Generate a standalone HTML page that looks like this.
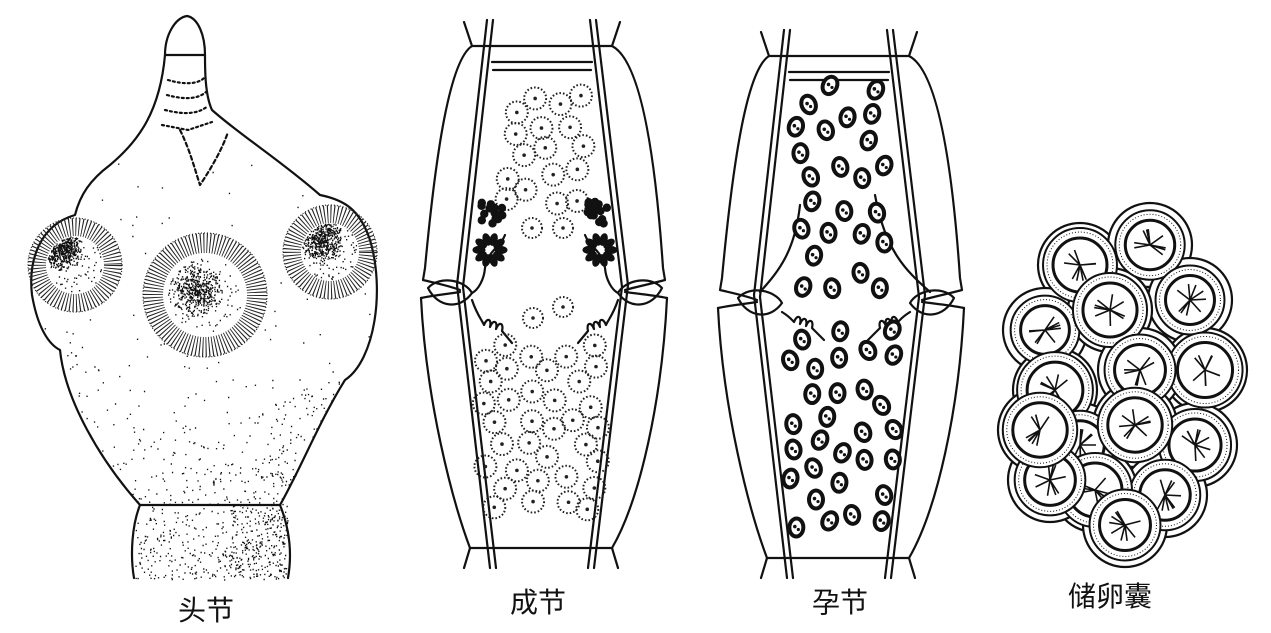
<!DOCTYPE html>
<html><head><meta charset="utf-8"><style>
html,body{margin:0;padding:0;background:#fff;width:1271px;height:633px;overflow:hidden}
svg{display:block}
.lab{font-family:"Liberation Sans","Noto Sans CJK SC",sans-serif;font-size:28px;fill:#111}
</style></head><body>
<svg id="s" width="1271" height="633" viewBox="0 0 1271 633" xmlns="http://www.w3.org/2000/svg">
<g fill="none" stroke="#111" stroke-width="2.2" stroke-linejoin="round" stroke-linecap="round">
<path id="head" d="M165,55 C160,110 140,140 110,165 C90,180 80,195 75,215 C40,225 28,260 32,295 C38,330 50,345 60,350 C65,400 100,460 140,505 L280,505 C300,470 320,420 345,380 C375,360 385,290 370,240 C360,210 345,200 320,195 C280,160 240,135 212,110 C205,95 205,70 205,55 Z"/>
<path d="M165,55 C165,35 175,18 187,16 C198,18 205,35 205,55"/>
<path d="M140,505 C132,525 130,555 134,578 M280,505 C290,530 292,555 288,578"/>
<path d="M168,80 C185,85 198,84 204,78 M167,95 C185,100 198,99 206,92 M165,110 C185,115 198,114 208,106 M162,125 L188,130 L212,122" stroke-dasharray="2 3"/>
<path d="M180,130 C190,150 195,170 200,185 C210,170 222,150 228,132" stroke-dasharray="4 3"/>
<g id="seg">
<path d="M464,22 L472,46 L612,46 L620,22"/>
<path d="M472,46 C450,60 436,150 425,268 L423,280 C440,284 450,286 460,290"/>
<path d="M612,46 C640,60 655,150 663,268 L665,280 C650,284 640,286 625,290"/>
<path d="M460,292 C448,294 435,295 421,298 M625,292 C640,294 652,295 667,298"/>
<path d="M421,298 C426,400 452,500 470,548 L612,548 C640,500 662,400 667,298"/>
<path d="M470,548 L464,568 M612,548 L618,568"/>
<path d="M487,20 L457,285 L490,568 M493,20 L463,287 L496,568"/>
<path d="M596,20 L628,285 L594,568 M590,20 L622,287 L588,568"/>
<path d="M492,62 L592,62 M493,70 L591,70"/>
</g>
<path d="M428,288 C440,275 465,280 472,293 C460,310 438,308 428,288 Z"/>
<path d="M662,288 C650,275 625,280 618,293 C630,310 652,308 662,288 Z"/>
<path d="M472,293 C478,290 484,280 485,268 C488,250 500,248 505,235 M618,293 C612,290 606,280 605,268 C602,250 590,248 585,235"/>
<path d="M472,300 c5,15 10,20 12,25 m0,0 c3,-8 8,-6 6,2 c3,-8 8,-6 6,2 c3,-8 8,-6 6,2 l10,12"/>
<path d="M618,300 c-5,15 -10,20 -12,25 m0,0 c-3,-8 -8,-6 -6,2 c-3,-8 -8,-6 -6,2 c-3,-8 -8,-6 -6,2 l-10,12"/>
<g transform="translate(297,10)">
<use href="#seg"/>
</g>
<path d="M738,298 C750,285 775,290 782,303 C770,320 748,318 738,298 Z"/>
<path d="M954,298 C942,285 917,290 910,303 C922,320 944,318 954,298 Z"/>
<path d="M760,292 C780,270 795,250 800,205 M930,292 C905,270 885,250 875,195"/>
<path d="M782,312 c8,5 10,8 12,10 m0,0 c3,-8 8,-6 6,2 c3,-8 8,-6 6,2 c3,-8 8,-6 6,2 l12,12 M910,312 c-8,5 -10,8 -12,10 m0,0 c-3,-8 -8,-6 -6,2 c-3,-8 -8,-6 -6,2 c-3,-8 -8,-6 -6,2 l-12,12"/>
</g>
<g fill="none" stroke="#222">
<circle cx="75" cy="265" r="38" stroke-width="18" stroke-dasharray="1 2.2"/>
<circle cx="205" cy="295" r="52" stroke-width="20" stroke-dasharray="1 2.2"/>
<circle cx="330" cy="252" r="38" stroke-width="18" stroke-dasharray="1 2.2"/>
<circle cx="75" cy="265" r="47" stroke-width="1.2" stroke-dasharray="1 2"/>
<circle cx="205" cy="295" r="62" stroke-width="1.2" stroke-dasharray="1 2"/>
<circle cx="330" cy="252" r="47" stroke-width="1.2" stroke-dasharray="1 2"/>
</g>
<g id="dots"></g>
<g id="eggsac" fill="none" stroke="#111" stroke-width="2"></g>
<text class="lab" x="178" y="620">头节</text>
<text class="lab" x="510" y="612">成节</text>
<text class="lab" x="812" y="612">孕节</text>
<text class="lab" x="1068" y="606">储卵囊</text>
</svg>
<script>
var NS="http://www.w3.org/2000/svg",dots=document.getElementById('dots');
var seed=7;function r(){seed=(seed*16807)%2147483647;return seed/2147483647;}
function el(t,a,p){var e=document.createElementNS(NS,t);for(var k in a)e.setAttribute(k,a[k]);(p||dots).appendChild(e);return e;}
var cv=document.createElement('canvas').getContext('2d');
var hp=new Path2D(document.getElementById('head').getAttribute('d'));
var h='';
var suck=[[75,265,47],[205,295,62],[330,252,47]];
for(var i=0;i<12000;i++){var x=30+r()*355,y=130+r()*450;
 var inside=cv.isPointInPath(hp,x,y)||(y>500&&x>135&&x<288);
 if(!inside)continue;
 if(suck.some(function(s){return Math.hypot(x-s[0],y-s[1])<s[2]}))continue;
 var t=Math.max(0,(y-330)/250);
 var d=0.01+t*t*0.5+(x>270&&y>380?0.12:0)+(y>505&&x>230?0.5:0)+(x<90&&y>330&&y<420?0.08:0);
 if(r()<d)h+='M'+x.toFixed(1)+','+y.toFixed(1)+'h1.3';}
[[75,265,47,62,250],[205,295,62,195,290],[330,252,47,322,240]].forEach(function(s){
 for(var i=0;i<2600;i++){var a=r()*6.283,rr=Math.sqrt(r())*s[2]*0.6;var x=s[0]+rr*Math.cos(a),y=s[1]+rr*Math.sin(a);
  var dd=Math.hypot(x-s[3],y-s[4]);var p=dd<s[2]*0.45?0.9*(1-dd/(s[2]*0.45))+0.1:0.03;
  if(r()<p)h+='M'+x.toFixed(1)+','+y.toFixed(1)+'h1.3';}
});
el('path',{d:h,stroke:'#111','stroke-width':1.4,fill:'none'});
function dc(x,y,R){el('circle',{cx:x,cy:y,r:R,fill:'none',stroke:'#222','stroke-width':2,'stroke-dasharray':'1.6 2'});el('circle',{cx:x,cy:y,r:1.8,fill:'#222'});}
function fill(x0,x1,y0,y1,n,fn,sp){var pts=[];for(var i=0;i<n*12&&pts.length<n;i++){var x=x0+r()*(x1-x0),y=y0+r()*(y1-y0);if(pts.every(function(p){return Math.hypot(p[0]-x,p[1]-y)>sp}))pts.push([x,y]);}pts.forEach(function(p){fn(p[0],p[1]);});}
fill(505,585,95,205,40,function(x,y){dc(x,y,11)},20);
[[532,228],[563,228],[533,318],[563,307]].forEach(function(p){dc(p[0],p[1],10)});
fill(482,598,345,515,70,function(x,y){dc(x,y,11)},20);
[[492,213],[597,213]].forEach(function(p){for(var i=0;i<16;i++){el('circle',{cx:p[0]+(r()-0.5)*22,cy:p[1]+(r()-0.5)*24,r:4.2,fill:'#111'});}});
[[490,250],[600,250]].forEach(function(p){for(var i=0;i<10;i++){var a=i*0.63,cx=p[0]+Math.cos(a)*11,cy=p[1]+Math.sin(a)*11;el('ellipse',{cx:cx,cy:cy,rx:6,ry:3.5,transform:'rotate('+(a*57)+' '+cx+' '+cy+')',fill:'#111',stroke:'#111','stroke-width':1});}});
function eg(x,y){var rot=(r()-0.5)*60;el('ellipse',{cx:x,cy:y,rx:9,ry:11,fill:'#111',transform:'rotate('+rot+' '+x+' '+y+')'});el('ellipse',{cx:x,cy:y,rx:5,ry:7,fill:'#fff',transform:'rotate('+rot+' '+x+' '+y+')'});el('circle',{cx:x-1.5,cy:y-1,r:1.8,fill:'#111'});el('circle',{cx:x+2,cy:y+2,r:1.6,fill:'#111'});}
fill(795,885,85,295,36,eg,24);
fill(790,895,330,530,48,eg,23);
var es=document.getElementById('eggsac');
var eggs=[[1080,265],[1150,245],[1190,300],[1045,330],[1110,310],[1205,370],[1140,370],[1055,390],[1195,445],[1080,445],[1135,425],[1165,495],[1095,490],[1050,480],[1125,525],[1040,430]];
eggs.forEach(function(p){el('circle',{cx:p[0],cy:p[1],r:42,fill:'#fff',stroke:'#111','stroke-width':2.2},es);});
eggs.forEach(function(p,i){
 var R=33+r()*5;el('circle',{cx:p[0],cy:p[1],r:R,fill:'#fff',stroke:'#111','stroke-width':2},es);
 el('circle',{cx:p[0],cy:p[1],r:R-4,fill:'none',stroke:'#111','stroke-width':1,'stroke-dasharray':'1 2'},es);
 el('circle',{cx:p[0],cy:p[1],r:R-10,fill:'none',stroke:'#111','stroke-width':3},es);
 var dd='';for(var k=0;k<9;k++){var a=r()*6.28;dd+='M'+p[0]+','+p[1]+'l'+(Math.cos(a)*16).toFixed(1)+','+(Math.sin(a)*16).toFixed(1);}
 el('path',{d:dd,stroke:'#111','stroke-width':1.6},es);
});
</script>
</body></html>
